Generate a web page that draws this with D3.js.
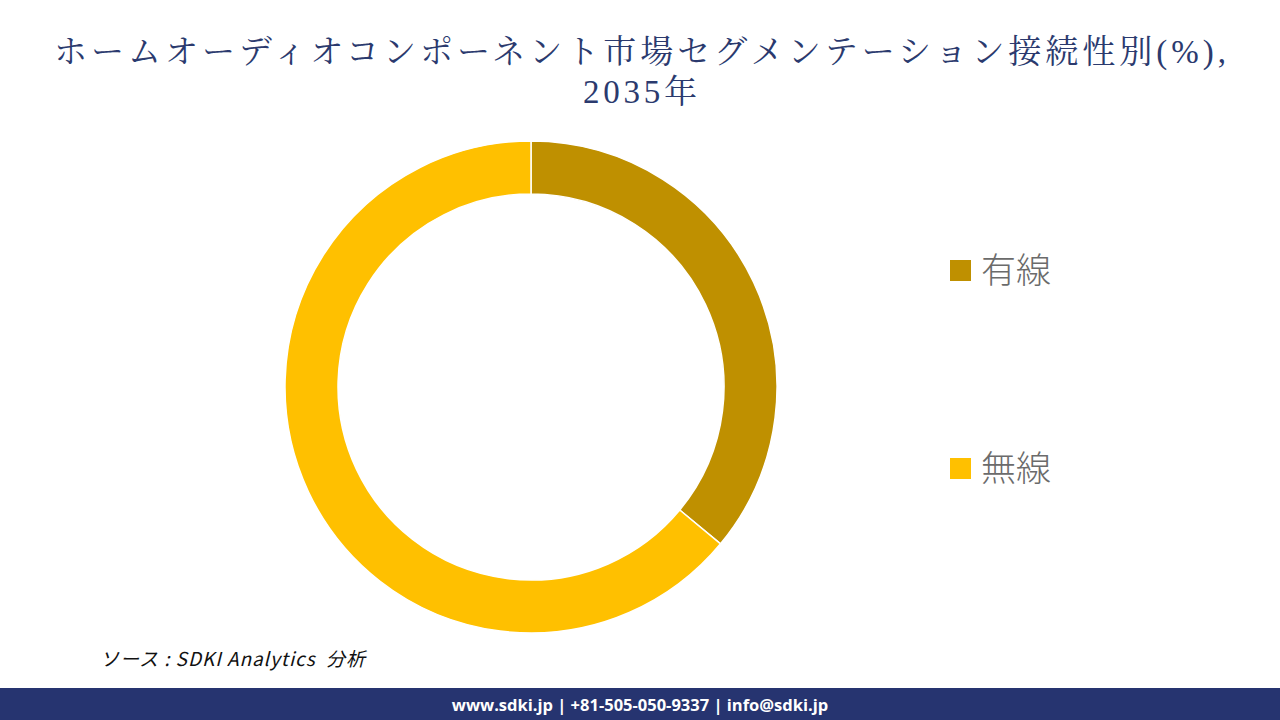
<!DOCTYPE html>
<html><head><meta charset="utf-8">
<script src="https://cdn.jsdelivr.net/npm/d3@7"></script>
<style>body{margin:0;background:#fff;} svg{display:block;} text{white-space:pre;}</style>
</head><body>
<svg id="c" width="1280" height="720"></svg>
<script>
const categories = ["有線", "無線"];
const values = [36, 64];
const colors = ["#BF9000", "#FFC000"];
const titleLines = ["ホームオーディオコンポーネント市場セグメンテーション接続性別(%),", "2035年"];
const sourceText = "ソース : SDKI Analytics  分析";
const footerText = "www.sdki.jp | +81-505-050-9337 | info@sdki.jp";

const svg = d3.select("#c");
svg.append("rect").attr("width",1280).attr("height",720).attr("fill","#fff");

// Title
const titleLen = [1172, 114];
svg.append("g").selectAll("text").data(titleLines).join("text")
  .attr("x", 640).attr("y", (d,i)=> 63 + i*40)
  .attr("text-anchor","middle")
  .attr("font-family","'Liberation Serif','Noto Serif CJK JP','Noto Sans CJK JP',serif")
  .attr("font-size", 33).attr("fill","#2B3A6E")
  .attr("textLength",(d,i)=>titleLen[i]).attr("lengthAdjust","spacing")
  .text(d=>d);

// Donut
const cx = 531, cy = 387, rOuter = 246, rInner = 193;
const pie = d3.pie().sort(null).value(d=>d);
const arc = d3.arc().innerRadius(rInner).outerRadius(rOuter);
svg.append("g").attr("transform",`translate(${cx},${cy})`)
  .selectAll("path").data(pie(values)).join("path")
  .attr("d", arc).attr("fill",(d,i)=>colors[i])
  .attr("stroke","#fff").attr("stroke-width",1.5);

// Legend
const lg = svg.append("g").selectAll("g").data(categories).join("g")
  .attr("transform",(d,i)=>`translate(950,${270 + i*198})`);
lg.append("rect").attr("x",0).attr("y",-10).attr("width",21).attr("height",21)
  .attr("fill",(d,i)=>colors[i]);
lg.append("text").attr("x",31).attr("y",13)
  .attr("font-family","'Noto Sans CJK JP',sans-serif").attr("font-weight",300)
  .attr("font-size",35).attr("fill","#6b6b6b").text(d=>d);

// Source
svg.append("text").attr("x",100).attr("y",666)
  .attr("font-family","'Noto Sans CJK JP',sans-serif").attr("font-style","italic")
  .attr("font-size",19).attr("fill","#111")
  .attr("textLength",265).attr("lengthAdjust","spacing").text(sourceText);

// Footer
svg.append("rect").attr("x",0).attr("y",688).attr("width",1280).attr("height",32).attr("fill","#263470");
svg.append("text").attr("x",640).attr("y",711).attr("text-anchor","middle")
  .attr("font-family","'Open Sans','Noto Sans',sans-serif").attr("font-weight",700)
  .attr("font-size",16.5).attr("fill","#fff").text(footerText);
</script>
</body></html>
